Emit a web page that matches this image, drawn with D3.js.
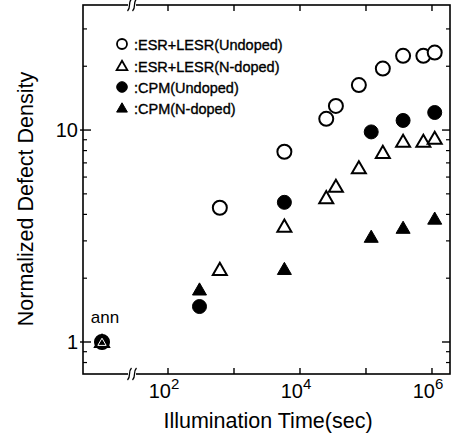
<html>
<head>
<script src="https://d3js.org/d3.v7.min.js"></script>
<style>
body { margin: 0; background: #fff; }
text { font-family: "Liberation Sans", Arial, sans-serif; fill: #000; }
</style>
</head>
<body>
<svg width="452" height="437"></svg>
<script>
// illumination time (sec); 10 stands for the annealed state ("ann")
var esrUndopedX = [10, 610, 5800, 25000, 35000, 78000, 180000, 365000, 740000, 1100000];
var esrUndopedY = [1, 4.3, 7.9, 11.3, 13.0, 16.3, 19.5, 22.4, 22.4, 23.2];
var esrNdopedX = [10, 610, 5800, 25000, 35000, 78000, 180000, 365000, 740000, 1100000];
var esrNdopedY = [1, 2.19, 3.5, 4.77, 5.4, 6.6, 7.8, 8.8, 8.8, 9.1];
var cpmUndopedX = [10, 300, 5800, 120000, 365000, 1100000];
var cpmUndopedY = [1, 1.47, 4.56, 9.8, 11.1, 12.1];
var cpmNdopedX = [10, 300, 5800, 120000, 365000, 1100000];
var cpmNdopedY = [1, 1.76, 2.2, 3.12, 3.44, 3.8];
var legendLabels = [":ESR+LESR(Undoped)", ":ESR+LESR(N-doped)", ":CPM(Undoped)", ":CPM(N-doped)"];
var xTickExp = [2, 3, 4, 5, 6];
var xTickLabelExp = [2, 4, 6];
var yTickMajor = [1, 10];

var pL = 83, pR = 450, pT = 5, pB = 374;
var x = d3.scaleLog().domain([Math.pow(10, 0.712), Math.pow(10, 6.273)]).range([pL, pR]);
var y = d3.scaleLog().domain([Math.pow(10, -0.151), Math.pow(10, 1.590)]).range([pB, pT]);

var svg = d3.select("svg");

// frame
svg.append("rect")
  .attr("x", pL).attr("y", pT)
  .attr("width", pR - pL).attr("height", pB - pT)
  .attr("fill", "none").attr("stroke", "#000").attr("stroke-width", 1.6);

// x ticks (bottom and top, inward)
xTickExp.forEach(function(e) {
  var px = x(Math.pow(10, e));
  svg.append("line").attr("x1", px).attr("x2", px).attr("y1", pB).attr("y2", pB - 6)
    .attr("stroke", "#000").attr("stroke-width", 1.4);
  svg.append("line").attr("x1", px).attr("x2", px).attr("y1", pT).attr("y2", pT + 6)
    .attr("stroke", "#000").attr("stroke-width", 1.4);
});

// y ticks: majors and minors on left and right
var yMinor = [];
[0.1, 1, 10].forEach(function(d) {
  for (var k = 2; k <= 9; k++) yMinor.push(d * k);
});
yMinor = yMinor.filter(function(v) { return v > y.domain()[0] && v < y.domain()[1]; });
yMinor.forEach(function(v) {
  svg.append("line").attr("x1", pL).attr("x2", pL + 4).attr("y1", y(v)).attr("y2", y(v))
    .attr("stroke", "#000").attr("stroke-width", 1.2);
  svg.append("line").attr("x1", pR).attr("x2", pR - 4).attr("y1", y(v)).attr("y2", y(v))
    .attr("stroke", "#000").attr("stroke-width", 1.2);
});
yTickMajor.forEach(function(v) {
  svg.append("line").attr("x1", pL - 3).attr("x2", pL + 8).attr("y1", y(v)).attr("y2", y(v))
    .attr("stroke", "#000").attr("stroke-width", 1.4);
  svg.append("line").attr("x1", pR).attr("x2", pR - 8).attr("y1", y(v)).attr("y2", y(v))
    .attr("stroke", "#000").attr("stroke-width", 1.4);
  svg.append("text").attr("x", pL - 5).attr("y", y(v) + 7)
    .attr("text-anchor", "end").style("font-size", "20px").text(v);
});

// x tick labels 10^n
xTickLabelExp.forEach(function(e) {
  var px = x(Math.pow(10, e));
  var t = svg.append("text").attr("x", px - 4).attr("y", 398)
    .attr("text-anchor", "middle").style("font-size", "20px");
  t.append("tspan").text("10");
  t.append("tspan").attr("dy", -9).style("font-size", "15px").text(e);
});

// axis break marks
var bx = 132;
[pT, pB].forEach(function(by) {
  svg.append("rect").attr("x", bx - 4).attr("y", by - 2).attr("width", 8).attr("height", 4).attr("fill", "#fff");
  [-2.5, 2.5].forEach(function(o) {
    svg.append("path")
      .attr("d", "M" + (bx + o - 2) + "," + (by + 6) + " C" + (bx + o + 2) + "," + (by + 2) + " " +
        (bx + o - 2) + "," + (by - 2) + " " + (bx + o + 2) + "," + (by - 6))
      .attr("fill", "none").attr("stroke", "#000").attr("stroke-width", 1.3);
  });
});

// axis titles
svg.append("text").attr("x", 268).attr("y", 428).attr("text-anchor", "middle")
  .style("font-size", "21.5px").text("Illumination Time(sec)");
svg.append("text").attr("transform", "translate(33,199) rotate(-90)").attr("text-anchor", "middle")
  .style("font-size", "21.5px").text("Normalized Defect Density");

// markers
var tri = d3.symbol().type(d3.symbolTriangle);
function drawCircles(xs, ys, filled) {
  svg.append("g").selectAll("circle").data(xs).join("circle")
    .attr("cx", function(d) { return x(d); })
    .attr("cy", function(d, i) { return y(ys[i]); })
    .attr("r", 7)
    .attr("fill", filled ? "#000" : "#fff")
    .attr("stroke", "#000").attr("stroke-width", filled ? 1 : 2);
}
function drawTriangles(xs, ys, filled) {
  svg.append("g").selectAll("path").data(xs).join("path")
    .attr("transform", function(d, i) { return "translate(" + x(d) + "," + (y(ys[i]) + 1) + ")"; })
    .attr("d", tri.size(85)())
    .attr("fill", filled ? "#000" : "#fff")
    .attr("stroke", "#000").attr("stroke-width", filled ? 1 : 2).attr("stroke-linejoin", "miter");
}
drawCircles(esrUndopedX, esrUndopedY, false);
drawTriangles(esrNdopedX, esrNdopedY, false);
drawCircles(cpmUndopedX, cpmUndopedY, true);
drawTriangles(cpmNdopedX, cpmNdopedY, true);

// ann point: overlapping markers, white triangle outline on the disk
svg.append("path")
  .attr("transform", "translate(" + x(10) + "," + (y(1) + 1) + ")")
  .attr("d", d3.symbol().type(d3.symbolTriangle).size(30)())
  .attr("fill", "none").attr("stroke", "#fff").attr("stroke-width", 1);
svg.append("text").attr("x", 105).attr("y", 323).attr("text-anchor", "middle")
  .style("font-size", "17px").text("ann");

// legend
var legendY = [44, 66, 87, 108];
legendLabels.forEach(function(lbl, i) {
  var ly = legendY[i], lx = 122;
  if (i === 0 || i === 2) {
    svg.append("circle").attr("cx", lx).attr("cy", ly).attr("r", i === 0 ? 5 : 5.3)
      .attr("fill", i === 0 ? "#fff" : "#000").attr("stroke", "#000").attr("stroke-width", i === 0 ? 1.8 : 1);
  } else {
    svg.append("path").attr("transform", "translate(" + lx + "," + (ly + 1) + ")")
      .attr("d", d3.symbol().type(d3.symbolTriangle).size(50)())
      .attr("fill", i === 1 ? "#fff" : "#000").attr("stroke", "#000").attr("stroke-width", i === 1 ? 1.8 : 1);
  }
  svg.append("text").attr("x", 134).attr("y", ly + 5.5)
    .style("font-size", "14.5px").attr("stroke", "#000").attr("stroke-width", 0.35).text(lbl);
});
</script>
</body>
</html>
